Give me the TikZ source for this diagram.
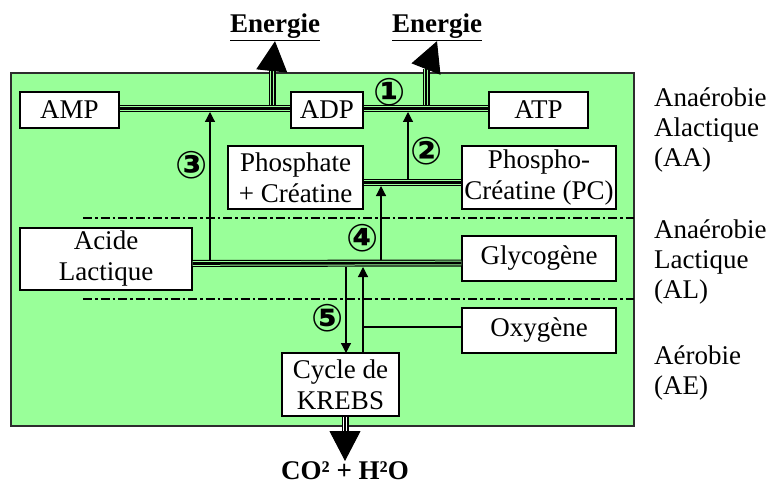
\documentclass[tikz,border=0pt]{standalone}
\usepackage{fontspec}
\setmainfont{Liberation Serif}
\newfontfamily\numfont{DejaVu Sans}
\usepackage{tikz}
\usetikzlibrary{arrows.meta}

\definecolor{bggreen}{RGB}{153,255,153}
\definecolor{framegray}{RGB}{45,45,45}

\tikzset{
  box/.style={draw=black, line width=1.3pt, fill=white, inner sep=0pt, align=center,
    font=\fontsize{27}{31}\selectfont},
  triple/.style={line width=2.6pt, preaction={draw=black, line width=7pt},
    preaction={draw=#1, line width=4.6pt}},
  triple/.default=bggreen,
  arr/.style={line width=1.2pt, -{Triangle[width=10pt,length=10pt]}},
  bigtip/.style={line width=1pt, -{Triangle[width=31pt,length=30pt]}},
  sepline/.style={line width=1.5pt, dash pattern=on 9pt off 3pt on 2.5pt off 3pt},
  num/.style={font=\numfont\bfseries\fontsize{38}{38}\selectfont, inner sep=0pt},
  zone/.style={anchor=west, align=left, inner sep=0pt, font=\fontsize{27}{30}\selectfont},
  title/.style={inner sep=0pt, font=\bfseries\fontsize{27}{30}\selectfont},
}

\begin{document}
\begin{tikzpicture}[x=1pt, y=-1pt]
  \useasboundingbox (0,0) rectangle (771,484);

  % Fond
  \draw[framegray, line width=1.3pt, fill=bggreen] (11,73) rectangle (634,426);
  \draw[sepline] (83,218) -- (634,218);
  \draw[sepline] (83,299) -- (634,299);

  % Boites
  \node[box, minimum width=99pt, minimum height=36pt] (amp) at (69.5,110) {AMP};
  \node[box, minimum width=72pt, minimum height=36pt] (adp) at (327,110) {ADP};
  \node[box, minimum width=99pt, minimum height=36pt] (atp) at (538.5,110) {ATP};
  \node[box, minimum width=135pt, minimum height=63pt] (phos) at (295.5,177.5) {Phosphate\\+ Créatine};
  \node[box, minimum width=154pt, minimum height=63pt] (pc) at (539,177.5) {Phospho-\\Créatine (PC)};
  \node[box, minimum width=172pt, minimum height=62pt] (acide) at (106,259) {Acide\\Lactique};
  \node[box, minimum width=154pt, minimum height=45pt] (glyco) at (539,258.5) {Glycogène};
  \node[box, minimum width=154pt, minimum height=45pt] (oxy) at (539,330.5) {Oxygène};
  \node[box, minimum width=117pt, minimum height=63pt] (krebs) at (340.5,384.5) {Cycle de\\KREBS};

  % Textes hors cadre
  \node[title, anchor=base] (en1) at (275,33) {\underline{Energie}};
  \node[title, anchor=base] (en2) at (437,33) {\underline{Energie}};
  \node[title, anchor=base] (co2) at (345,479) {CO² + H²O};
  \node[zone] (aa) at (654,130) {Anaérobie\\Alactique\\(AA)};
  \node[zone] (al) at (654,262) {Anaérobie\\Lactique\\(AL)};
  \node[zone] (ae) at (654,373) {Aérobie\\(AE)};

  % Sorties d'energie
  \coordinate (e1a) at (272,106);
  \coordinate (e1b) at (272,69);
  \coordinate (e2a) at (426,106);
  \coordinate (e2b) at (426,69);
  \draw[triple] (e1a) -- (e1b);
  \draw[bigtip] (e1b) -- (en1.south);
  \draw[triple] (e2a) -- (e2b);
  \draw[bigtip] (e2b) -- (en2.south);

  % Liaisons
  \draw[triple] ([yshift=1.5pt]amp.east) -- ([yshift=1.5pt]adp.west);
  \draw[triple] ([yshift=1.5pt]adp.east) -- ([yshift=1.5pt]atp.west);
  \draw[triple] ([yshift=-5pt]phos.east) -- ([yshift=-5pt]pc.west);
  \draw[triple] ([yshift=-4.5pt]acide.east) -- ([yshift=-4.5pt]glyco.west);

  % Reactions
  \coordinate (r3a) at (210,260);
  \coordinate (r3b) at (210,112);
  \coordinate (r2a) at (408,179);
  \coordinate (r2b) at (408,112);
  \coordinate (r4a) at (381,260);
  \coordinate (r4b) at (381,186);
  \coordinate (r5a) at (346,267);
  \coordinate (r5b) at (346,353);
  \coordinate (k1) at (363,353);
  \coordinate (k2) at (363,267);
  \coordinate (ox) at (363,327);
  \draw[arr] (r3a) -- (r3b);
  \draw[arr] (r2a) -- (r2b);
  \draw[arr] (r4a) -- (r4b);
  \draw[arr] (r5a) -- (r5b);
  \draw[arr] (k1) -- (k2);
  \draw[line width=1.2pt] (ox) -- (ox -| oxy.west);

  % Sortie du cycle
  \coordinate (kb) at (345,416.5);
  \coordinate (kt) at (345,431);
  \coordinate (kc) at (345,461);
  \draw[triple=white] (kb) -- (kt);
  \draw[bigtip] (kt) -- (kc);

  % Numeros
  \node[num] (n1) at (390,92) {①};
  \node[num] (n2) at (427,151) {②};
  \node[num] (n3) at (192,165) {③};
  \node[num] (n4) at (363,238) {④};
  \node[num] (n5) at (328,318) {⑤};
\end{tikzpicture}
\end{document}
